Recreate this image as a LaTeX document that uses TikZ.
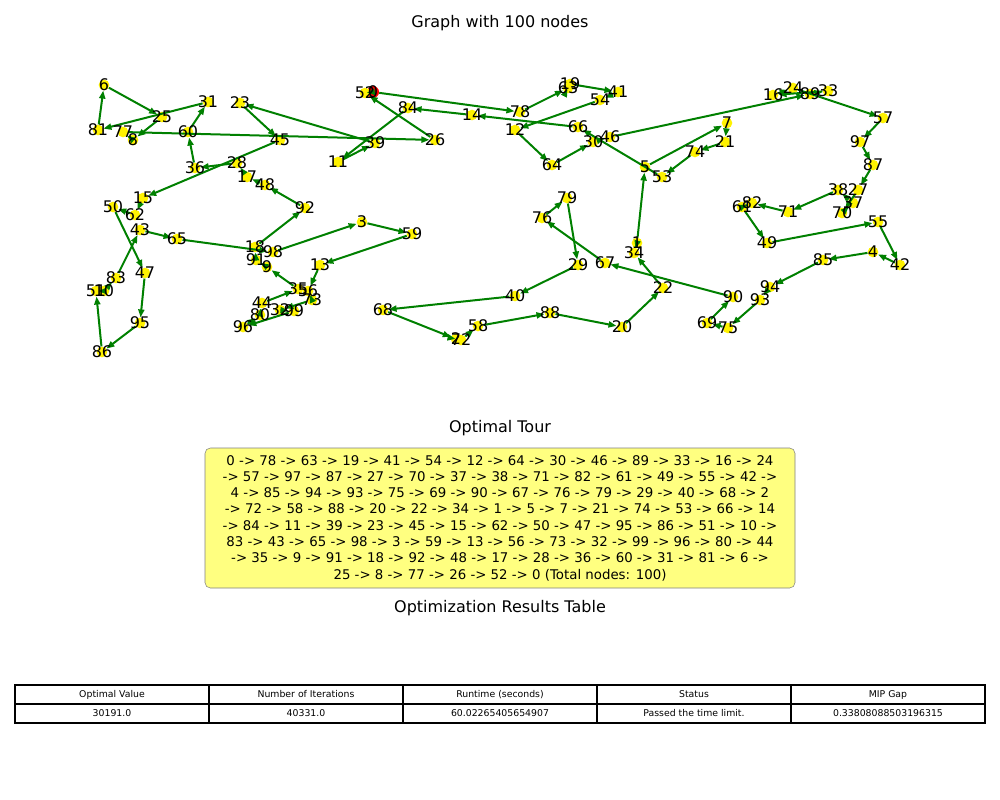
\documentclass[tikz,border=0pt]{standalone}
\usepackage{fontspec}
\setmainfont{DejaVu Sans}
\usepackage{xcolor}
\usepackage{tikz}
\usetikzlibrary{arrows.meta, positioning}

\definecolor{edgegreen}{HTML}{008000}
\definecolor{boxyellow}{HTML}{FFFF80}

\begin{document}
\begin{tikzpicture}[x=0.75pt, y=-0.75pt]

\tikzstyle{city}=[circle, draw=none, fill=yellow, minimum size=8pt, inner sep=0pt]
\tikzstyle{depot}=[city, fill=red, minimum size=9pt]
\tikzstyle{tour}=[draw=edgegreen, line width=1.5pt, -{Triangle[length=6pt,width=4.5pt]}]
\tikzstyle{lbl}=[font=\fontsize{12}{14}\selectfont, inner sep=0pt]
\tikzstyle{heading}=[font=\fontsize{12}{14}\selectfont]
\tikzstyle{cell}=[draw=black, line width=0.8pt, minimum width=145.5pt, minimum height=14.25pt, inner sep=0pt, font=\fontsize{7}{8}\selectfont]

\useasboundingbox (0,0) rectangle (1000,800);

\node (title) at (500,23) [heading] {Graph with 100 nodes};

%% cities
\node (n0) at (373,92) [depot] {};
\node (n1) at (637,243) [city] {};
\node (n2) at (456,339) [city] {};
\node (n3) at (362,222) [city] {};
\node (n4) at (873,252) [city] {};
\node (n5) at (645,167) [city] {};
\node (n6) at (104,85) [city] {};
\node (n7) at (727,123) [city] {};
\node (n8) at (133,140) [city] {};
\node (n9) at (267,267) [city] {};
\node (n10) at (104,291) [city] {};
\node (n11) at (338,162) [city] {};
\node (n12) at (515,130) [city] {};
\node (n13) at (320,265) [city] {};
\node (n14) at (472,115) [city] {};
\node (n15) at (143,198) [city] {};
\node (n16) at (773,95) [city] {};
\node (n17) at (247,177) [city] {};
\node (n18) at (255,247) [city] {};
\node (n19) at (570,84) [city] {};
\node (n20) at (622,327) [city] {};
\node (n21) at (725,142) [city] {};
\node (n22) at (663,288) [city] {};
\node (n23) at (240,103) [city] {};
\node (n24) at (793,88) [city] {};
\node (n25) at (162,117) [city] {};
\node (n26) at (435,140) [city] {};
\node (n27) at (858,190) [city] {};
\node (n28) at (237,163) [city] {};
\node (n29) at (578,265) [city] {};
\node (n30) at (593,142) [city] {};
\node (n31) at (208,102) [city] {};
\node (n32) at (280,310) [city] {};
\node (n33) at (828,91) [city] {};
\node (n34) at (634,253) [city] {};
\node (n35) at (298,289) [city] {};
\node (n36) at (195,168) [city] {};
\node (n37) at (853,203) [city] {};
\node (n38) at (838,190) [city] {};
\node (n39) at (375,143) [city] {};
\node (n40) at (515,296) [city] {};
\node (n41) at (618,92) [city] {};
\node (n42) at (900,265) [city] {};
\node (n43) at (140,230) [city] {};
\node (n44) at (262,303) [city] {};
\node (n45) at (280,140) [city] {};
\node (n46) at (610,137) [city] {};
\node (n47) at (145,273) [city] {};
\node (n48) at (265,185) [city] {};
\node (n49) at (767,243) [city] {};
\node (n50) at (113,207) [city] {};
\node (n51) at (96,291) [city] {};
\node (n52) at (365,93) [city] {};
\node (n53) at (662,177) [city] {};
\node (n54) at (600,100) [city] {};
\node (n55) at (878,222) [city] {};
\node (n56) at (308,291) [city] {};
\node (n57) at (883,118) [city] {};
\node (n58) at (478,326) [city] {};
\node (n59) at (412,234) [city] {};
\node (n60) at (188,132) [city] {};
\node (n61) at (742,207) [city] {};
\node (n62) at (135,215) [city] {};
\node (n63) at (568,88) [city] {};
\node (n64) at (552,165) [city] {};
\node (n65) at (177,239) [city] {};
\node (n66) at (578,127) [city] {};
\node (n67) at (605,263) [city] {};
\node (n68) at (383,310) [city] {};
\node (n69) at (707,323) [city] {};
\node (n70) at (842,213) [city] {};
\node (n71) at (788,212) [city] {};
\node (n72) at (461,340) [city] {};
\node (n73) at (312,300) [city] {};
\node (n74) at (695,152) [city] {};
\node (n75) at (728,328) [city] {};
\node (n76) at (542,218) [city] {};
\node (n77) at (123,132) [city] {};
\node (n78) at (520,112) [city] {};
\node (n79) at (567,198) [city] {};
\node (n80) at (260,315) [city] {};
\node (n81) at (98,130) [city] {};
\node (n82) at (752,203) [city] {};
\node (n83) at (116,278) [city] {};
\node (n84) at (408,108) [city] {};
\node (n85) at (823,260) [city] {};
\node (n86) at (102,352) [city] {};
\node (n87) at (873,165) [city] {};
\node (n88) at (550,313) [city] {};
\node (n89) at (810,94) [city] {};
\node (n90) at (733,297) [city] {};
\node (n91) at (256,260) [city] {};
\node (n92) at (305,208) [city] {};
\node (n93) at (760,300) [city] {};
\node (n94) at (770,287) [city] {};
\node (n95) at (140,323) [city] {};
\node (n96) at (243,327) [city] {};
\node (n97) at (860,142) [city] {};
\node (n98) at (273,252) [city] {};
\node (n99) at (294,311) [city] {};

%% tour
\draw [tour] (n0) -- (n78);
\draw [tour] (n78) -- (n63);
\draw [tour] (n63) -- (n19);
\draw [tour] (n19) -- (n41);
\draw [tour] (n41) -- (n54);
\draw [tour] (n54) -- (n12);
\draw [tour] (n12) -- (n64);
\draw [tour] (n64) -- (n30);
\draw [tour] (n30) -- (n46);
\draw [tour] (n46) -- (n89);
\draw [tour] (n89) -- (n33);
\draw [tour] (n33) -- (n16);
\draw [tour] (n16) -- (n24);
\draw [tour] (n24) -- (n57);
\draw [tour] (n57) -- (n97);
\draw [tour] (n97) -- (n87);
\draw [tour] (n87) -- (n27);
\draw [tour] (n27) -- (n70);
\draw [tour] (n70) -- (n37);
\draw [tour] (n37) -- (n38);
\draw [tour] (n38) -- (n71);
\draw [tour] (n71) -- (n82);
\draw [tour] (n82) -- (n61);
\draw [tour] (n61) -- (n49);
\draw [tour] (n49) -- (n55);
\draw [tour] (n55) -- (n42);
\draw [tour] (n42) -- (n4);
\draw [tour] (n4) -- (n85);
\draw [tour] (n85) -- (n94);
\draw [tour] (n94) -- (n93);
\draw [tour] (n93) -- (n75);
\draw [tour] (n75) -- (n69);
\draw [tour] (n69) -- (n90);
\draw [tour] (n90) -- (n67);
\draw [tour] (n67) -- (n76);
\draw [tour] (n76) -- (n79);
\draw [tour] (n79) -- (n29);
\draw [tour] (n29) -- (n40);
\draw [tour] (n40) -- (n68);
\draw [tour] (n68) -- (n2);
\draw [tour] (n2) -- (n72);
\draw [tour] (n72) -- (n58);
\draw [tour] (n58) -- (n88);
\draw [tour] (n88) -- (n20);
\draw [tour] (n20) -- (n22);
\draw [tour] (n22) -- (n34);
\draw [tour] (n34) -- (n1);
\draw [tour] (n1) -- (n5);
\draw [tour] (n5) -- (n7);
\draw [tour] (n7) -- (n21);
\draw [tour] (n21) -- (n74);
\draw [tour] (n74) -- (n53);
\draw [tour] (n53) -- (n66);
\draw [tour] (n66) -- (n14);
\draw [tour] (n14) -- (n84);
\draw [tour] (n84) -- (n11);
\draw [tour] (n11) -- (n39);
\draw [tour] (n39) -- (n23);
\draw [tour] (n23) -- (n45);
\draw [tour] (n45) -- (n15);
\draw [tour] (n15) -- (n62);
\draw [tour] (n62) -- (n50);
\draw [tour] (n50) -- (n47);
\draw [tour] (n47) -- (n95);
\draw [tour] (n95) -- (n86);
\draw [tour] (n86) -- (n51);
\draw [tour] (n51) -- (n10);
\draw [tour] (n10) -- (n83);
\draw [tour] (n83) -- (n43);
\draw [tour] (n43) -- (n65);
\draw [tour] (n65) -- (n98);
\draw [tour] (n98) -- (n3);
\draw [tour] (n3) -- (n59);
\draw [tour] (n59) -- (n13);
\draw [tour] (n13) -- (n56);
\draw [tour] (n56) -- (n73);
\draw [tour] (n73) -- (n32);
\draw [tour] (n32) -- (n99);
\draw [tour] (n99) -- (n96);
\draw [tour] (n96) -- (n80);
\draw [tour] (n80) -- (n44);
\draw [tour] (n44) -- (n35);
\draw [tour] (n35) -- (n9);
\draw [tour] (n9) -- (n91);
\draw [tour] (n91) -- (n18);
\draw [tour] (n18) -- (n92);
\draw [tour] (n92) -- (n48);
\draw [tour] (n48) -- (n17);
\draw [tour] (n17) -- (n28);
\draw [tour] (n28) -- (n36);
\draw [tour] (n36) -- (n60);
\draw [tour] (n60) -- (n31);
\draw [tour] (n31) -- (n81);
\draw [tour] (n81) -- (n6);
\draw [tour] (n6) -- (n25);
\draw [tour] (n25) -- (n8);
\draw [tour] (n8) -- (n77);
\draw [tour] (n77) -- (n26);
\draw [tour] (n26) -- (n52);
\draw [tour] (n52) -- (n0);

%% labels
\node [lbl] at (n0) {0};
\node [lbl] at (n1) {1};
\node [lbl] at (n2) {2};
\node [lbl] at (n3) {3};
\node [lbl] at (n4) {4};
\node [lbl] at (n5) {5};
\node [lbl] at (n6) {6};
\node [lbl] at (n7) {7};
\node [lbl] at (n8) {8};
\node [lbl] at (n9) {9};
\node [lbl] at (n10) {10};
\node [lbl] at (n11) {11};
\node [lbl] at (n12) {12};
\node [lbl] at (n13) {13};
\node [lbl] at (n14) {14};
\node [lbl] at (n15) {15};
\node [lbl] at (n16) {16};
\node [lbl] at (n17) {17};
\node [lbl] at (n18) {18};
\node [lbl] at (n19) {19};
\node [lbl] at (n20) {20};
\node [lbl] at (n21) {21};
\node [lbl] at (n22) {22};
\node [lbl] at (n23) {23};
\node [lbl] at (n24) {24};
\node [lbl] at (n25) {25};
\node [lbl] at (n26) {26};
\node [lbl] at (n27) {27};
\node [lbl] at (n28) {28};
\node [lbl] at (n29) {29};
\node [lbl] at (n30) {30};
\node [lbl] at (n31) {31};
\node [lbl] at (n32) {32};
\node [lbl] at (n33) {33};
\node [lbl] at (n34) {34};
\node [lbl] at (n35) {35};
\node [lbl] at (n36) {36};
\node [lbl] at (n37) {37};
\node [lbl] at (n38) {38};
\node [lbl] at (n39) {39};
\node [lbl] at (n40) {40};
\node [lbl] at (n41) {41};
\node [lbl] at (n42) {42};
\node [lbl] at (n43) {43};
\node [lbl] at (n44) {44};
\node [lbl] at (n45) {45};
\node [lbl] at (n46) {46};
\node [lbl] at (n47) {47};
\node [lbl] at (n48) {48};
\node [lbl] at (n49) {49};
\node [lbl] at (n50) {50};
\node [lbl] at (n51) {51};
\node [lbl] at (n52) {52};
\node [lbl] at (n53) {53};
\node [lbl] at (n54) {54};
\node [lbl] at (n55) {55};
\node [lbl] at (n56) {56};
\node [lbl] at (n57) {57};
\node [lbl] at (n58) {58};
\node [lbl] at (n59) {59};
\node [lbl] at (n60) {60};
\node [lbl] at (n61) {61};
\node [lbl] at (n62) {62};
\node [lbl] at (n63) {63};
\node [lbl] at (n64) {64};
\node [lbl] at (n65) {65};
\node [lbl] at (n66) {66};
\node [lbl] at (n67) {67};
\node [lbl] at (n68) {68};
\node [lbl] at (n69) {69};
\node [lbl] at (n70) {70};
\node [lbl] at (n71) {71};
\node [lbl] at (n72) {72};
\node [lbl] at (n73) {73};
\node [lbl] at (n74) {74};
\node [lbl] at (n75) {75};
\node [lbl] at (n76) {76};
\node [lbl] at (n77) {77};
\node [lbl] at (n78) {78};
\node [lbl] at (n79) {79};
\node [lbl] at (n80) {80};
\node [lbl] at (n81) {81};
\node [lbl] at (n82) {82};
\node [lbl] at (n83) {83};
\node [lbl] at (n84) {84};
\node [lbl] at (n85) {85};
\node [lbl] at (n86) {86};
\node [lbl] at (n87) {87};
\node [lbl] at (n88) {88};
\node [lbl] at (n89) {89};
\node [lbl] at (n90) {90};
\node [lbl] at (n91) {91};
\node [lbl] at (n92) {92};
\node [lbl] at (n93) {93};
\node [lbl] at (n94) {94};
\node [lbl] at (n95) {95};
\node [lbl] at (n96) {96};
\node [lbl] at (n97) {97};
\node [lbl] at (n98) {98};
\node [lbl] at (n99) {99};

%% optimal tour box
\node (tourtitle) at (500,428) [heading] {Optimal Tour};
\node (tourbox) at (500,518) [draw=gray, fill=boxyellow, rounded corners=4pt, minimum width=442.5pt, minimum height=105pt, inner sep=0pt, align=center, font=\fontsize{10}{12.2}\selectfont]
{0 -> 78 -> 63 -> 19 -> 41 -> 54 -> 12 -> 64 -> 30 -> 46 -> 89 -> 33 -> 16 -> 24\\
-> 57 -> 97 -> 87 -> 27 -> 70 -> 37 -> 38 -> 71 -> 82 -> 61 -> 49 -> 55 -> 42 ->\\
4 -> 85 -> 94 -> 93 -> 75 -> 69 -> 90 -> 67 -> 76 -> 79 -> 29 -> 40 -> 68 -> 2\\
-> 72 -> 58 -> 88 -> 20 -> 22 -> 34 -> 1 -> 5 -> 7 -> 21 -> 74 -> 53 -> 66 -> 14\\
-> 84 -> 11 -> 39 -> 23 -> 45 -> 15 -> 62 -> 50 -> 47 -> 95 -> 86 -> 51 -> 10 ->\\
83 -> 43 -> 65 -> 98 -> 3 -> 59 -> 13 -> 56 -> 73 -> 32 -> 99 -> 96 -> 80 -> 44\\
-> 35 -> 9 -> 91 -> 18 -> 92 -> 48 -> 17 -> 28 -> 36 -> 60 -> 31 -> 81 -> 6 ->\\
25 -> 8 -> 77 -> 26 -> 52 -> 0 (Total nodes: 100)};

%% results table
\node (tabtitle) at (500,608) [heading] {Optimization Results Table};

\node (h1) at (112,694.5) [cell] {Optimal Value};
\node (h2) at (306,694.5) [cell] {Number of Iterations};
\node (h3) at (500,694.5) [cell] {Runtime (seconds)};
\node (h4) at (694,694.5) [cell] {Status};
\node (h5) at (888,694.5) [cell] {MIP Gap};

\node (v1) at (112,713.5) [cell] {30191.0};
\node (v2) at (306,713.5) [cell] {40331.0};
\node (v3) at (500,713.5) [cell] {60.02265405654907};
\node (v4) at (694,713.5) [cell] {Passed the time limit.};
\node (v5) at (888,713.5) [cell] {0.33808088503196315};

\end{tikzpicture}
\end{document}
